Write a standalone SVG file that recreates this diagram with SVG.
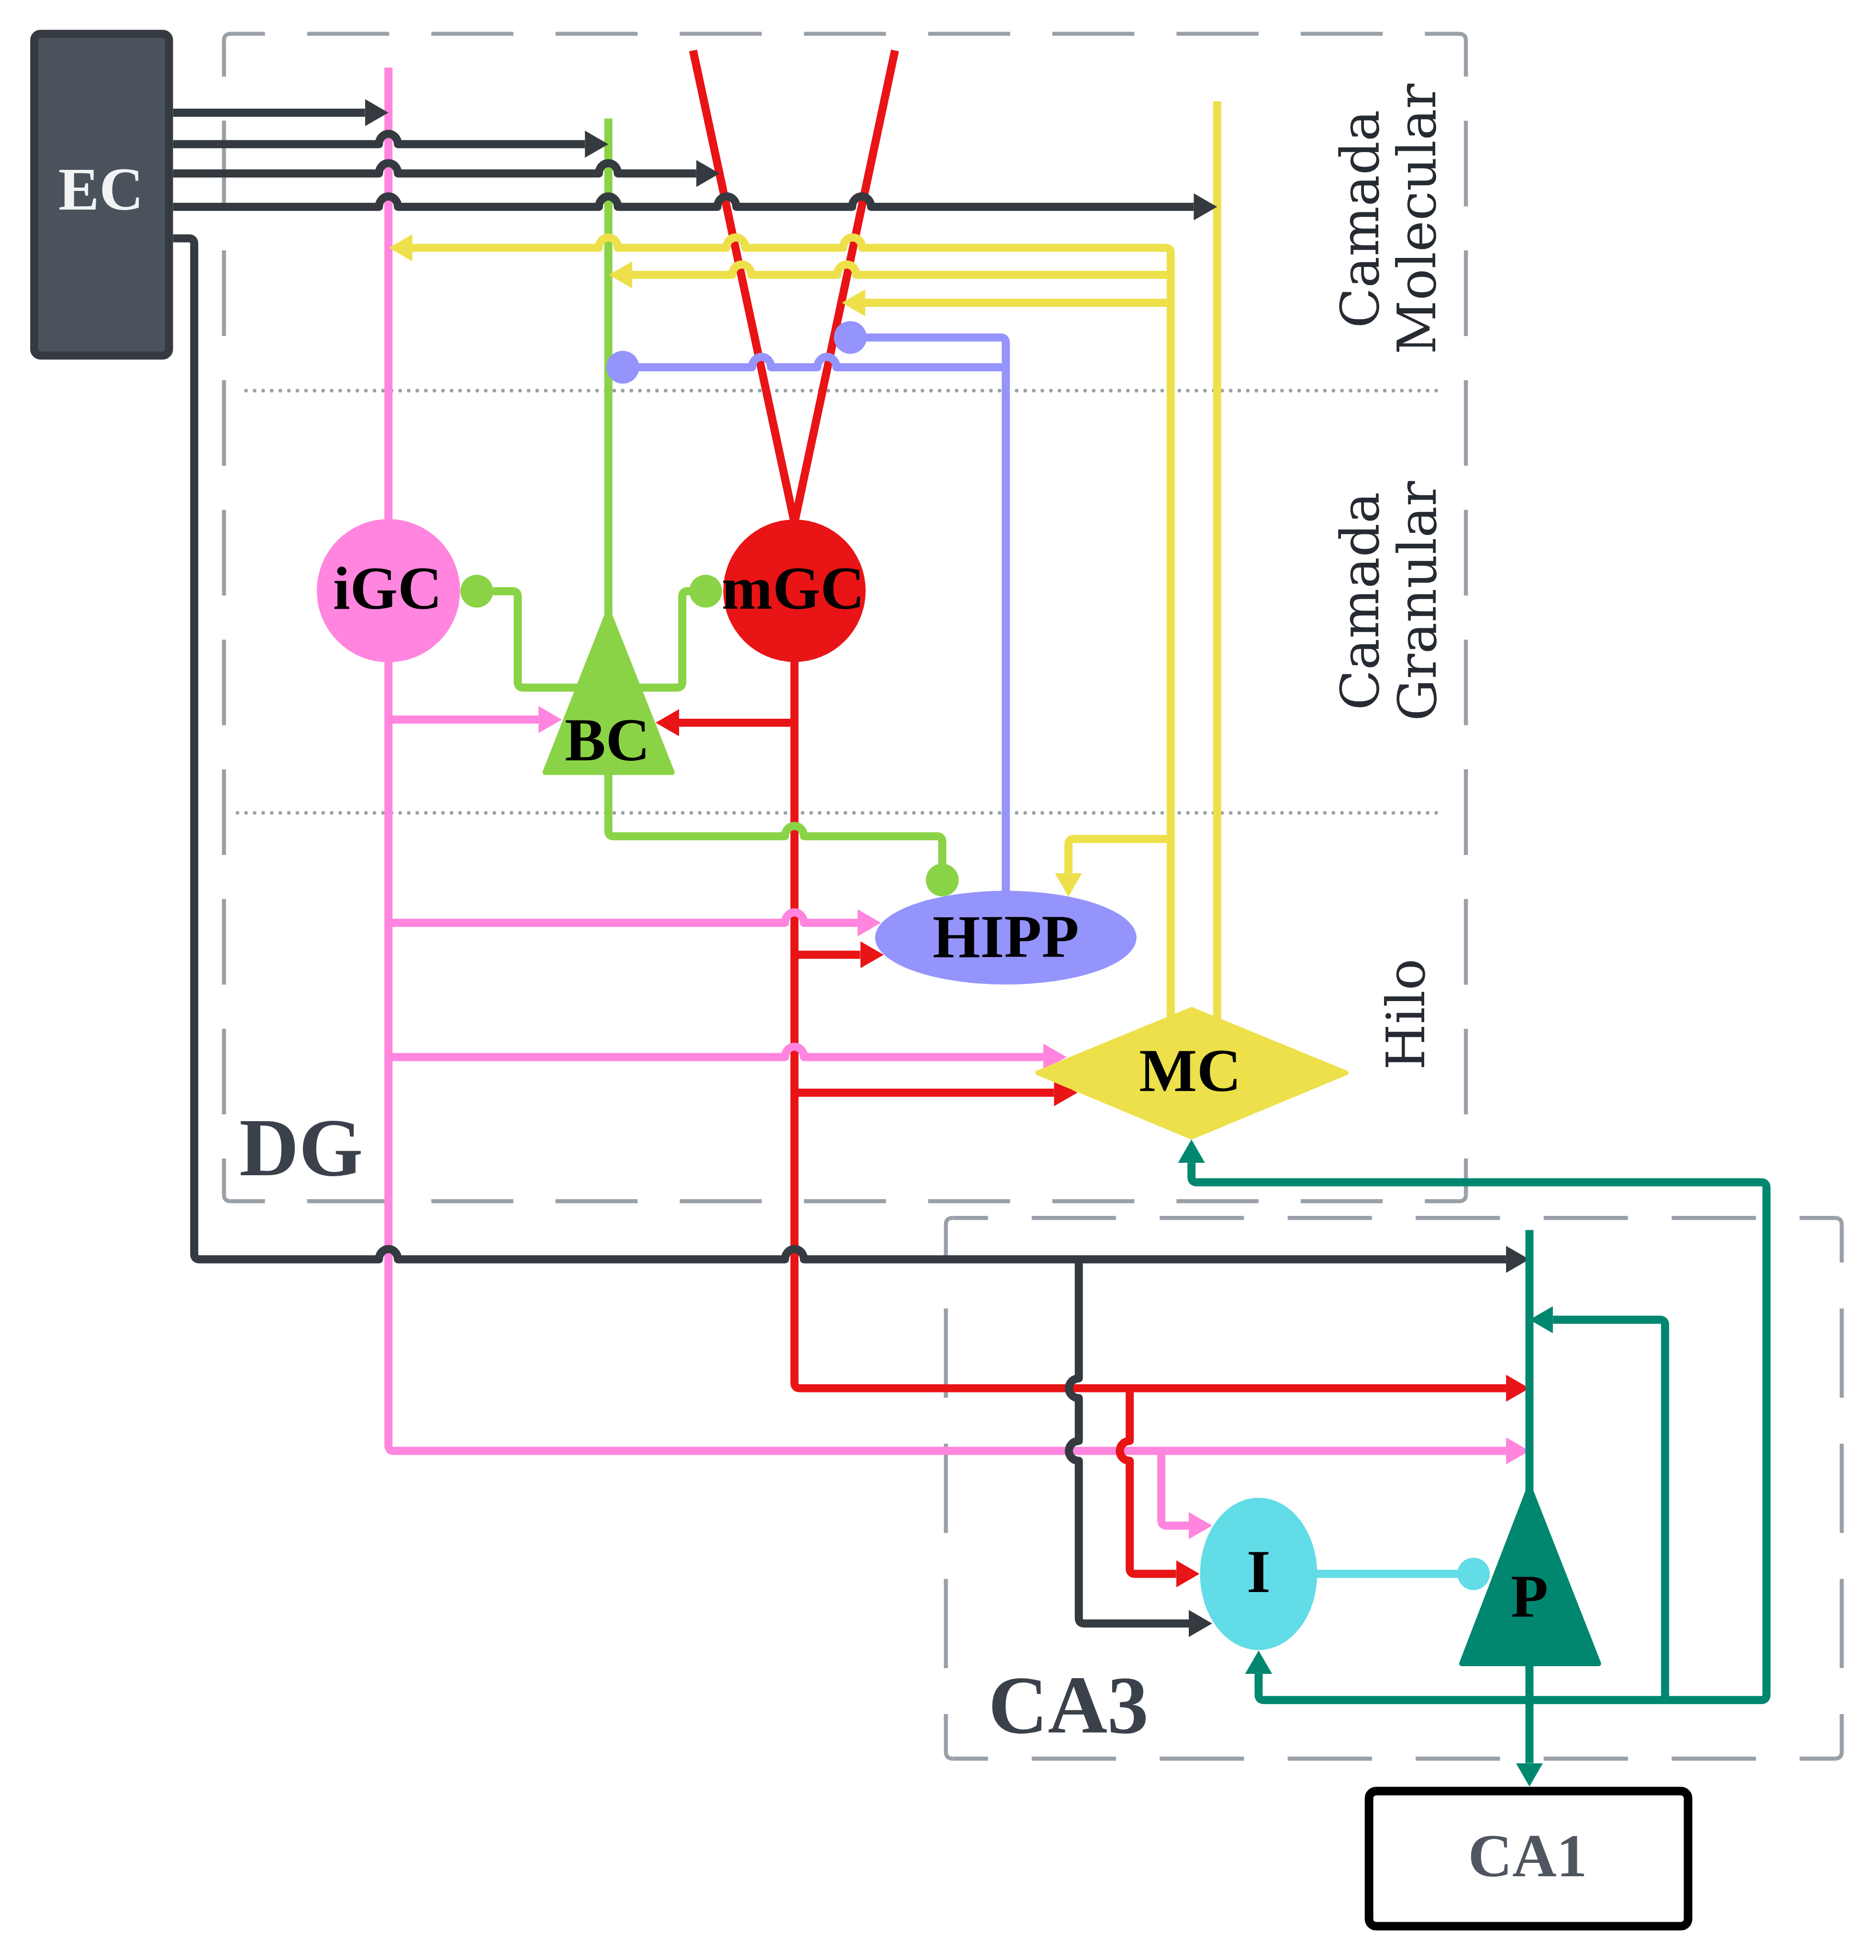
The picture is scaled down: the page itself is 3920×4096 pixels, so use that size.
<svg xmlns="http://www.w3.org/2000/svg" width="3920" height="4096" viewBox="0 0 3920 4096">
<defs>
<style>
.ln{fill:none;stroke-width:18;stroke-linecap:butt;stroke-linejoin:round}
.dk{stroke:#343a40}.pk{stroke:#ff85de}.rd{stroke:#e81416}.gn{stroke:#8bd346}.yl{stroke:#ede04a}.bl{stroke:#9494fc}.cy{stroke:#62dce6}.tl{stroke:#01876f}
.box{fill:none;stroke:#9aa0a8;stroke-width:9}
.dots{fill:none;stroke:#9aa0a8;stroke-width:8;stroke-linecap:round;stroke-dasharray:0 19}
.lbl{font-family:"Liberation Serif","Times New Roman",serif;font-weight:bold;font-size:136px;text-anchor:middle;fill:#000}
.reg{font-family:"Liberation Serif","Times New Roman",serif;font-weight:bold;font-size:183px;fill:#3a414a}
.lay{font-family:"DejaVu Serif",serif;font-size:117px;fill:#262b33;text-anchor:middle}
</style>
<marker id="a-dk" markerUnits="userSpaceOnUse" viewBox="0 -30 52 60" markerWidth="52" markerHeight="60" refX="0" refY="0" orient="auto"><path d="M0,-30 L52,0 L0,30 Z" fill="#343a40"/></marker>
<marker id="a-pk" markerUnits="userSpaceOnUse" viewBox="0 -30 52 60" markerWidth="52" markerHeight="60" refX="0" refY="0" orient="auto"><path d="M0,-30 L52,0 L0,30 Z" fill="#ff85de"/></marker>
<marker id="a-rd" markerUnits="userSpaceOnUse" viewBox="0 -30 52 60" markerWidth="52" markerHeight="60" refX="0" refY="0" orient="auto"><path d="M0,-30 L52,0 L0,30 Z" fill="#e81416"/></marker>
<marker id="a-yl" markerUnits="userSpaceOnUse" viewBox="0 -30 52 60" markerWidth="52" markerHeight="60" refX="0" refY="0" orient="auto"><path d="M0,-30 L52,0 L0,30 Z" fill="#ede04a"/></marker>
<marker id="a-tl" markerUnits="userSpaceOnUse" viewBox="0 -30 52 60" markerWidth="52" markerHeight="60" refX="0" refY="0" orient="auto"><path d="M0,-30 L52,0 L0,30 Z" fill="#01876f"/></marker>
</defs>
<rect width="3920" height="4096" fill="#ffffff"/>
<g transform="scale(0.94162)">

<g id="region-DG">
<path class="box" d="M497,90 Q497,75 512,75 M3238,75 Q3253,75 3253,90 M3253,2651 Q3253,2666 3238,2666 M512,2666 Q497,2666 497,2651"/>
<line class="box" x1="512" y1="75" x2="3238" y2="75" stroke-dasharray="182 93.6" stroke-dashoffset="106"/>
<line class="box" x1="512" y1="2666" x2="3238" y2="2666" stroke-dasharray="182 93.6" stroke-dashoffset="106"/>
<line class="box" x1="497" y1="90" x2="497" y2="2651" stroke-dasharray="190 97.9" stroke-dashoffset="110"/>
<line class="box" x1="3253" y1="90" x2="3253" y2="2651" stroke-dasharray="190 97.9" stroke-dashoffset="110"/>
<path class="dots" d="M546,867 H3190"/>
<path class="dots" d="M527,1804 H3190"/>
<text class="reg" x="531" y="2608">DG</text>
</g>

<g id="region-CA3">
<path class="box" d="M2099,2718 Q2099,2703 2114,2703 M4072,2703 Q4087,2703 4087,2718 M4087,3888 Q4087,3903 4072,3903 M2114,3903 Q2099,3903 2099,3888"/>
<line class="box" x1="2114" y1="2703" x2="4072" y2="2703" stroke-dasharray="187 97" stroke-dashoffset="108.5"/>
<line class="box" x1="2114" y1="3903" x2="4072" y2="3903" stroke-dasharray="187 97" stroke-dashoffset="108.5"/>
<line class="box" x1="2099" y1="2718" x2="2099" y2="3888" stroke-dasharray="198 102" stroke-dashoffset="114"/>
<line class="box" x1="4087" y1="2718" x2="4087" y2="3888" stroke-dasharray="198 102" stroke-dashoffset="114"/>
<text class="reg" x="2193" y="3845">CA3</text>
</g>

<g id="layer-labels">
<text class="lay" transform="translate(3059,486) rotate(-90)">Camada</text>
<text class="lay" transform="translate(3185,486) rotate(-90)">Molecular</text>
<text class="lay" transform="translate(3059,1334) rotate(-90)">Camada</text>
<text class="lay" transform="translate(3186,1334) rotate(-90)">Granular</text>
<text class="lay" transform="translate(3161,2251) rotate(-90)">Hilo</text>
</g>

<g id="connectors">
<!-- trunks -->
<path class="ln pk" d="M862,150 V1160"/>
<path class="ln pk" d="M862,1460 V3208 Q862,3220 874,3220 H3342" marker-end="url(#a-pk)"/>
<path class="ln rd" d="M1763,1460 V3069 Q1763,3081 1775,3081 H3342" marker-end="url(#a-rd)"/>
<path class="ln rd" d="M1538,112 L1763,1160"/>
<path class="ln rd" d="M1986,112 L1763,1160"/>
<path class="ln gn" d="M1350,263 V1370"/>
<path class="ln yl" d="M2701,225 V2272"/>
<path class="ln yl" d="M2598,2262 V562 Q2598,550 2586,550 H1913 a21,23 0 0 0 -42,0 H1654 a21,23 0 0 0 -42,0 H1371 a21,23 0 0 0 -42,0 H915" marker-end="url(#a-yl)"/>
<path class="ln yl" d="M2598,610 H1900 a21,23 0 0 0 -42,0 H1667 a21,23 0 0 0 -42,0 H1403" marker-end="url(#a-yl)"/>
<path class="ln yl" d="M2598,672 H1920" marker-end="url(#a-yl)"/>
<path class="ln yl" d="M2598,1862 H2383 Q2371,1862 2371,1874 V1938" marker-end="url(#a-yl)"/>
<!-- green -->
<path class="ln gn" d="M1094,1312 H1137 Q1149,1312 1149,1324 V1514 Q1149,1526 1161,1526 H1300"/>
<path class="ln gn" d="M1540,1312 H1526 Q1514,1312 1514,1324 V1514 Q1514,1526 1502,1526 H1400"/>
<path class="ln gn" d="M1350,1710 V1844 Q1350,1856 1362,1856 H1742 a21,23 0 0 1 42,0 H2079 Q2091,1856 2091,1868 V1930"/>
<circle cx="1058" cy="1312" r="36.5" fill="#8bd346"/>
<circle cx="1566" cy="1312" r="36.5" fill="#8bd346"/>
<circle cx="2091" cy="1953" r="36.5" fill="#8bd346"/>
<!-- blue -->
<path class="ln bl" d="M2232,1990 V761 Q2232,749 2220,749 H1900"/>
<path class="ln bl" d="M2232,815 H1856 a21,23 0 0 0 -42,0 H1711 a21,23 0 0 0 -42,0 H1400"/>
<circle cx="1887" cy="749" r="36.5" fill="#9494fc"/>
<circle cx="1382" cy="815" r="36.5" fill="#9494fc"/>
<!-- pink branches -->
<path class="ln pk" d="M862,1597 H1195" marker-end="url(#a-pk)"/>
<path class="ln pk" d="M862,2048 H1742 a21,23 0 0 1 42,0 H1903" marker-end="url(#a-pk)"/>
<path class="ln pk" d="M862,2346 H1742 a21,23 0 0 1 42,0 H2315" marker-end="url(#a-pk)"/>
<path class="ln pk" d="M2577,3220 V3374 Q2577,3386 2589,3386 H2638" marker-end="url(#a-pk)"/>
<!-- red branches -->
<path class="ln rd" d="M1763,1604 H1507" marker-end="url(#a-rd)"/>
<path class="ln rd" d="M1763,2119 H1909" marker-end="url(#a-rd)"/>
<path class="ln rd" d="M1763,2425 H2339" marker-end="url(#a-rd)"/>
<path class="ln rd" d="M2507,3081 V3198 a22,22 0 0 0 0,44 V3481 Q2507,3493 2519,3493 H2610" marker-end="url(#a-rd)"/>
<!-- EC -->
<path class="ln dk" d="M384,250 H810" marker-end="url(#a-dk)"/>
<path class="ln dk" d="M384,320 H841 a21,23 0 0 1 42,0 H1298" marker-end="url(#a-dk)"/>
<path class="ln dk" d="M384,385 H841 a21,23 0 0 1 42,0 H1329 a21,23 0 0 1 42,0 H1545" marker-end="url(#a-dk)"/>
<path class="ln dk" d="M384,459 H841 a21,23 0 0 1 42,0 H1329 a21,23 0 0 1 42,0 H1592 a21,23 0 0 1 42,0 H1891 a21,23 0 0 1 42,0 H2649" marker-end="url(#a-dk)"/>
<path class="ln dk" d="M384,529 H419 Q431,529 431,541 V2783 Q431,2795 443,2795 H841 a21,23 0 0 1 42,0 H1742 a21,23 0 0 1 42,0 H3342" marker-end="url(#a-dk)"/>
<path class="ln dk" d="M2394,2795 V3059 a22,22 0 0 0 0,44 V3198 a22,22 0 0 0 0,44 V3591 Q2394,3603 2406,3603 H2638" marker-end="url(#a-dk)"/>
<!-- cyan -->
<path class="ln cy" d="M2900,3493 H3240"/>
<circle cx="3270" cy="3493" r="36" fill="#62dce6"/>
<!-- teal -->
<path class="ln tl" d="M3394,3773 H3908 Q3920,3773 3920,3761 V2636 Q3920,2624 3908,2624 H2656 Q2644,2624 2644,2612 V2581" marker-end="url(#a-tl)"/>
<path class="ln tl" d="M3394,3773 H2805 Q2793,3773 2793,3761 V3715" marker-end="url(#a-tl)"/>
<path class="ln tl" d="M3695,3773 V2941 Q3695,2929 3683,2929 H3446" marker-end="url(#a-tl)"/>
<path class="ln tl" d="M3394,3690 V3913" marker-end="url(#a-tl)"/>
<path class="ln tl" d="M3394,2730 V3310"/>
</g>

<g id="node-EC">
<rect x="76" y="75" width="299" height="714" rx="14" fill="#4a535c" stroke="#343a40" stroke-width="18"/>
<text class="lbl" x="224" y="465" fill="#f1f3f5" style="fill:#f1f3f5">EC</text>
</g>
<g id="node-iGC">
<circle cx="862" cy="1311" r="159" fill="#ff85de"/>
<text class="lbl" x="860" y="1351">iGC</text>
</g>
<g id="node-mGC">
<circle cx="1763" cy="1311" r="158" fill="#e81416"/>
<text class="lbl" x="1760" y="1351">mGC</text>
</g>
<g id="node-BC">
<polygon points="1350,1358 1491,1714 1210,1714" fill="#8bd346" stroke="#8bd346" stroke-width="12" stroke-linejoin="round"/>
<text class="lbl" x="1348" y="1688">BC</text>
</g>
<g id="node-HIPP">
<ellipse cx="2232" cy="2081" rx="290" ry="104" fill="#9494fc"/>
<text class="lbl" x="2232" y="2124">HIPP</text>
</g>
<g id="node-MC">
<polygon points="2644,2240 2988,2381 2644,2524 2302,2381" fill="#ede04a" stroke="#ede04a" stroke-width="10" stroke-linejoin="round"/>
<text class="lbl" x="2641" y="2421">MC</text>
</g>
<g id="node-I">
<ellipse cx="2793" cy="3493" rx="130" ry="169" fill="#62dce6"/>
<text class="lbl" x="2793" y="3533">I</text>
</g>
<g id="node-P">
<polygon points="3394,3302 3547,3692 3244,3692" fill="#01876f" stroke="#01876f" stroke-width="12" stroke-linejoin="round"/>
<text class="lbl" x="3394" y="3588">P</text>
</g>
<g id="node-CA1">
<rect x="3038" y="3975" width="708" height="300" rx="16" fill="#ffffff" stroke="#000000" stroke-width="19"/>
<text class="lbl" x="3390" y="4164" style="fill:#4f5660">CA1</text>
</g>

</g>
</svg>
